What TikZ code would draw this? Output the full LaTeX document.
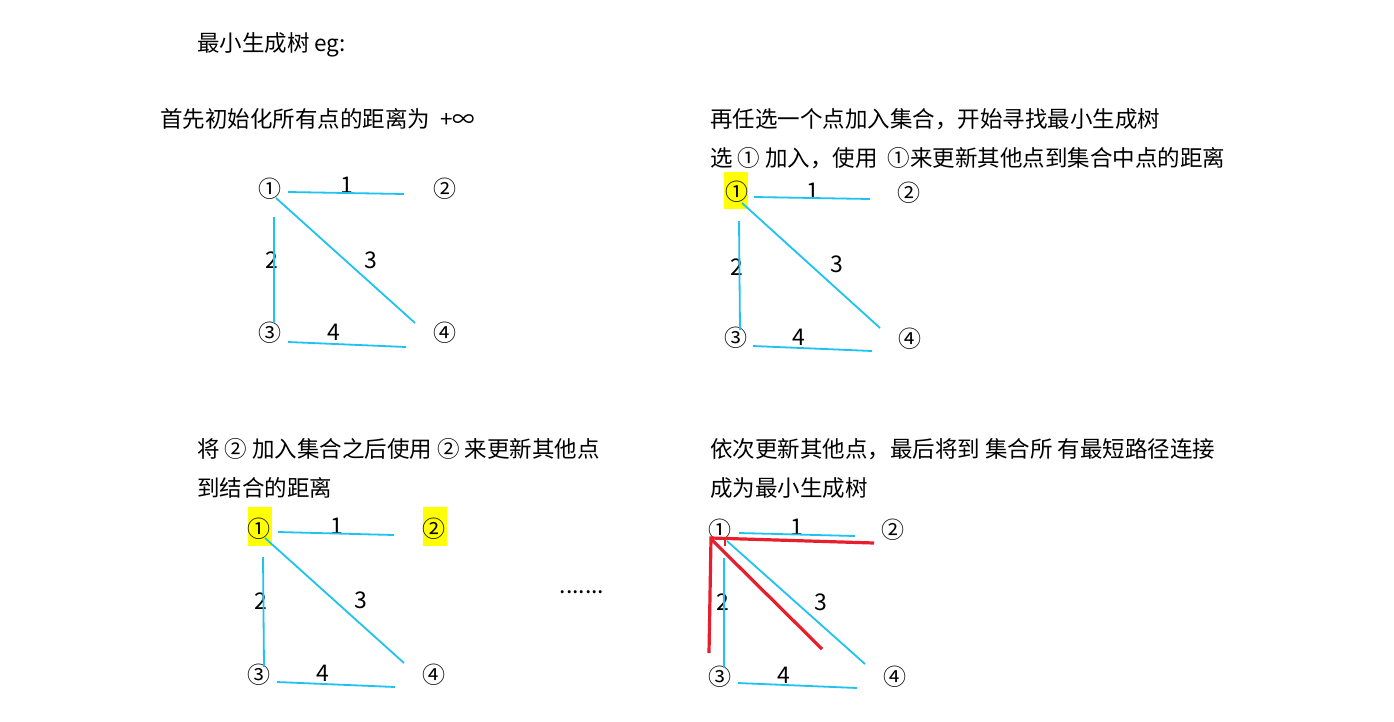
\documentclass[tikz,border=0pt]{standalone}
\usepackage{fontspec}
\setmainfont{Noto Sans CJK SC}
\definecolor{edgeblue}{RGB}{30,195,240}
\definecolor{mstred}{RGB}{232,30,45}
\definecolor{hlyellow}{RGB}{255,255,0}
\tikzset{
  txt/.style={anchor=west,inner sep=0pt,font=\fontsize{22.5}{27}\selectfont},
  vtx/.style={inner sep=0pt,font=\fontsize{23}{26}\selectfont},
  wlab/.style={inner sep=0pt,font=\fontsize{23}{26}\selectfont},
  edge/.style={draw=edgeblue,line width=1.8pt},
  tree/.style={draw=mstred,line width=3.2pt},
  hl/.style={fill=hlyellow,draw=none}
}
\begin{document}
\begin{tikzpicture}[x=1pt,y=-1pt]
\useasboundingbox[fill=white] (0,0) rectangle (1394,721);

% texts
\node[txt] (title) at (197,45) {最小生成树 eg:};
\node[txt] (t1) at (160,119) {首先初始化所有点的距离为 ~+∞};
\node[txt] (t2a) at (710,119) {再任选一个点加入集合，开始寻找最小生成树};
\node[txt] (t2b) at (710,158) {选 ① 加入，使用~~①来更新其他点到集合中点的距离};
\node[txt] (t3a) at (197,449) {将 ② 加入集合之后使用 ② 来更新其他点};
\node[txt] (t3b) at (197,488) {到结合的距离};
\node[txt] (t4a) at (710,449) {依次更新其他点，最后将到 集合所 有最短路径连接};
\node[txt] (t4b) at (710,488) {成为最小生成树};
\node[wlab] (dots) at (582,592) {.......};

% ---------- graph 1 ----------
\node[vtx] (a1) at (270,189) {①};
\node[vtx] (a2) at (445,189) {②};
\node[vtx] (a3) at (270,333) {③};
\node[vtx] (a4) at (445,333) {④};
\node[wlab] (aw1) at (347,185) {1};
\node[wlab] (aw2) at (272,260) {2};
\node[wlab] (aw3) at (371,260) {3};
\node[wlab] (aw4) at (334,332) {4};
\coordinate (a12s) at (288,192); \coordinate (a12e) at (404,194);
\coordinate (a14s) at (276,198); \coordinate (a14e) at (415,323);
\coordinate (a13s) at (274,217); \coordinate (a13e) at (274,323);
\coordinate (a34s) at (288,342); \coordinate (a34e) at (406,347);
\draw[edge] (a12s) -- (a12e);
\draw[edge] (a14s) -- (a14e);
\draw[edge] (a13s) -- (a13e);
\draw[edge] (a34s) -- (a34e);

% ---------- graph 2 ----------
\fill[hl] (724,172) rectangle (748,209);
\node[vtx] (b1) at (737,192) {①};
\node[vtx] (b2) at (909,193) {②};
\node[vtx] (b3) at (736,338) {③};
\node[vtx] (b4) at (910,339) {④};
\node[wlab] (bw1) at (813,191) {1};
\node[wlab] (bw2) at (737,267) {2};
\node[wlab] (bw3) at (837,264) {3};
\node[wlab] (bw4) at (799,337) {4};
\coordinate (b12s) at (754,197); \coordinate (b12e) at (870,199);
\coordinate (b14s) at (742,203); \coordinate (b14e) at (880,328);
\coordinate (b13s) at (739,221); \coordinate (b13e) at (740,330);
\coordinate (b34s) at (753,346); \coordinate (b34e) at (872,351);
\draw[edge] (b12s) -- (b12e);
\draw[edge] (b14s) -- (b14e);
\draw[edge] (b13s) -- (b13e);
\draw[edge] (b34s) -- (b34e);

% ---------- graph 3 ----------
\fill[hl] (248,507) rectangle (272,546);
\fill[hl] (423,507) rectangle (447,546);
\node[vtx] (c1) at (259,529) {①};
\node[vtx] (c2) at (434,529) {②};
\node[vtx] (c3) at (259,675) {③};
\node[vtx] (c4) at (434,675) {④};
\node[wlab] (cw1) at (337,526) {1};
\node[wlab] (cw2) at (261,601) {2};
\node[wlab] (cw3) at (361,600) {3};
\node[wlab] (cw4) at (323,673) {4};
\coordinate (c12s) at (278,532); \coordinate (c12e) at (394,535);
\coordinate (c14s) at (265,538); \coordinate (c14e) at (404,663);
\coordinate (c13s) at (263,557); \coordinate (c13e) at (264,667);
\coordinate (c34s) at (277,682); \coordinate (c34e) at (395,687);
\draw[edge] (c12s) -- (c12e);
\draw[edge] (c14s) -- (c14e);
\draw[edge] (c13s) -- (c13e);
\draw[edge] (c34s) -- (c34e);

% ---------- graph 4 ----------
\node[vtx] (d1) at (720,530) {①};
\node[vtx] (d2) at (893,530) {②};
\node[vtx] (d3) at (720,677) {③};
\node[vtx] (d4) at (895,677) {④};
\node[wlab] (dw1) at (797,527) {1};
\node[wlab] (dw2) at (723,602) {2};
\node[wlab] (dw3) at (821,602) {3};
\node[wlab] (dw4) at (784,675) {4};
\coordinate (d12s) at (739,533); \coordinate (d12e) at (855,536);
\coordinate (d14s) at (727,541); \coordinate (d14e) at (865,664);
\coordinate (d13s) at (724,558); \coordinate (d13e) at (724,668);
\coordinate (d34s) at (738,683); \coordinate (d34e) at (857,688);
\draw[edge] (d12s) -- (d12e);
\draw[edge] (d14s) -- (d14e);
\draw[edge] (d13s) -- (d13e);
\draw[edge] (d34s) -- (d34e);
\coordinate (rc) at (711,538);
\coordinate (rv) at (709,653);
\coordinate (rh) at (874,543);
\coordinate (rds) at (712,540);
\coordinate (rde) at (822,649);
\coordinate (rts) at (725,538);
\coordinate (rte) at (725,546);
\draw[tree,line join=miter] (rv) -- (rc) -- (rh);
\draw[tree] (rds) -- (rde);
\draw[draw=mstred,line width=2pt] (rts) -- (rte);
\end{tikzpicture}
\end{document}
